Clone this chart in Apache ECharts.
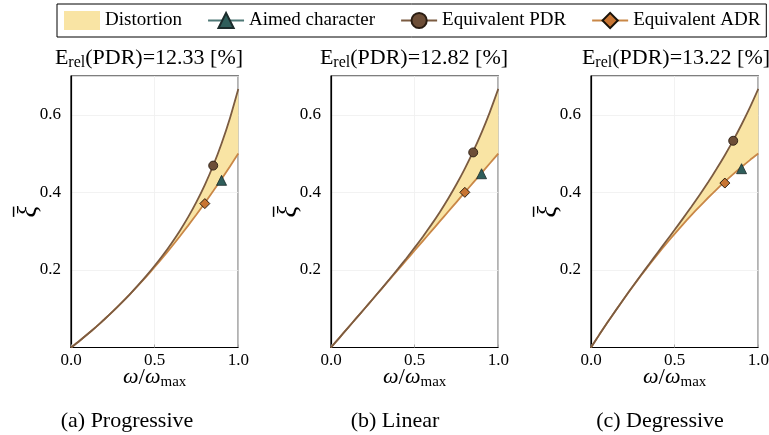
<!DOCTYPE html>
<html>
<head>
<meta charset="utf-8">
<script src="https://cdn.jsdelivr.net/npm/echarts@6/dist/echarts.min.js"></script>
<style>
html,body{margin:0;padding:0;background:#fff;}
#c{width:769px;height:435px;}
</style>
</head>
<body>
<div id="c"></div>
<script>
// ---- data ----
const omega = [0,0.05,0.1,0.15,0.2,0.25,0.3,0.35,0.4,0.45,0.5,0.55,0.6,0.65,0.7,0.75,0.8,0.85,0.9,0.95,1.0];

// (a) Progressive
const pdrProg = [0,0.0169,0.0347,0.0533,0.0728,0.0931,0.1144,0.1365,0.1601,0.1847,0.2107,0.2384,0.2683,0.3006,0.3361,0.3754,0.4195,0.4693,0.5261,0.5913,0.6667];
const adrProg = [0,0.0169,0.0347,0.0533,0.0728,0.0931,0.1143,0.1363,0.1592,0.1829,0.2075,0.2329,0.2592,0.2863,0.3143,0.3431,0.3728,0.4033,0.4347,0.4669,0.5];
// (b) Linear
const pdrLin = [0,0.025,0.05,0.075,0.1,0.1251,0.1507,0.1765,0.2027,0.2296,0.2574,0.2863,0.3168,0.349,0.3835,0.4208,0.4612,0.5054,0.5539,0.6076,0.6667];
const adrLin = [0,0.025,0.05,0.075,0.1,0.125,0.15,0.175,0.2,0.225,0.25,0.275,0.3,0.325,0.35,0.375,0.4,0.425,0.45,0.475,0.5];
// (c) Degressive
const pdrDeg = [0,0.0332,0.0655,0.097,0.1278,0.158,0.1875,0.2166,0.2456,0.2744,0.3034,0.3329,0.3629,0.3939,0.4261,0.46,0.4958,0.5339,0.5749,0.619,0.6667];
const adrDeg = [0,0.0332,0.0655,0.0969,0.1275,0.1573,0.1861,0.2141,0.2413,0.2676,0.293,0.3176,0.3413,0.3641,0.3861,0.4073,0.4275,0.4469,0.4655,0.4832,0.5];

// markers [omega, xi]
const aimedPts = [[0.9,0.431],[0.9,0.448],[0.9,0.461]];
const pdrPts   = [[0.85,0.469],[0.85,0.503],[0.85,0.533]];
const adrPts   = [[0.8,0.371],[0.8,0.40],[0.8,0.424]];

const errRel = ['12.33','12.82','13.22'];
const captions = ['(a) Progressive','(b) Linear','(c) Degressive'];
const xTicks = [0, 0.5, 1.0];
const yTicks = [0.2, 0.4, 0.6];

// ---- styling ----
const FONT = 'Liberation Serif';
const C_FILL = '#f9e4a4';
const C_PDR_LINE = '#7b5b41';
const C_PDR_FILL = '#6d4e37';
const C_ADR_LINE = '#c98747';
const C_ADR_FILL = '#c87533';
const C_AIM_LINE = '#4f7876';
const C_AIM_FILL = '#2f5e5b';

const panels = [
  {pdr: pdrProg, adr: adrProg},
  {pdr: pdrLin, adr: adrLin},
  {pdr: pdrDeg, adr: adrDeg}
];
const lefts = [71, 331, 591];
const PW = 167.3, PT = 76, PH = 271.5;

const grids = [], xAxes = [], yAxes = [], series = [], graphics = [];
panels.forEach((p, i) => {
  grids.push({left: lefts[i], top: PT, width: PW, height: PH, show: true,
    outerBoundsMode: 'none', containLabel: false,
    borderColor: '#000', borderWidth: 1.2, backgroundColor: '#fff'});
  xAxes.push({type: 'value', gridIndex: i, min: 0, max: 1, interval: 0.5,
    axisLine: {show: true, onZero: false, lineStyle: {color: '#000', width: 1.2}},
    axisTick: {show: true, inside: true, length: 3, lineStyle: {color: '#aaa'}},
    splitLine: {show: true, lineStyle: {color: '#efefef', width: 0.8}},
    axisLabel: {fontFamily: FONT, fontSize: 17, color: '#000', margin: 5,
      formatter: v => xTicks.some(t => Math.abs(t - v) < 1e-9) ? v.toFixed(1) : ''},
    name: '{i|ω}{n|/}{i|ω}{s|max}', nameLocation: 'middle', nameGap: 18, nameMoveOverlap: false,
    nameTextStyle: {rich: {
      i: {fontFamily: FONT, fontStyle: 'italic', fontSize: 22, color: '#000', lineHeight: 24, verticalAlign: 'middle'},
      n: {fontFamily: FONT, fontSize: 23, color: '#000', lineHeight: 24, verticalAlign: 'middle'},
      s: {fontFamily: FONT, fontSize: 15, color: '#000', lineHeight: 14, verticalAlign: 'bottom'}
    }}
  });
  yAxes.push({type: 'value', gridIndex: i, min: 0, max: 0.7, interval: 0.2,
    axisLine: {show: true, onZero: false, lineStyle: {color: '#000', width: 1.2}},
    axisTick: {show: false},
    splitLine: {show: true, lineStyle: {color: '#efefef', width: 0.8}},
    axisLabel: {fontFamily: FONT, fontSize: 17, color: '#000', margin: 10,
      formatter: v => yTicks.some(t => Math.abs(t - v) < 1e-9) ? v.toFixed(1) : ''},
    name: '{b|\u2013}\n{x|ξ}', nameLocation: 'middle', nameGap: 31, nameRotate: 90, nameMoveOverlap: false,
    nameTextStyle: {rich: {
      b: {fontFamily: FONT, fontSize: 20, fontWeight: 'bold', color: '#000', lineHeight: 8, align: 'center'},
      x: {fontFamily: FONT, fontStyle: 'italic', fontSize: 27, color: '#000', lineHeight: 22, align: 'center'}
    }}
  });
  // band between the two curves
  const upper = p.pdr, lower = p.adr;
  series.push({type: 'custom', xAxisIndex: i, yAxisIndex: i, name: 'Distortion',
    data: [0], itemStyle: {color: C_FILL}, silent: true, z: 1,
    renderItem: (params, api) => {
      const pts = [];
      omega.forEach((w, k) => pts.push(api.coord([w, upper[k]])));
      for (let k = omega.length - 1; k >= 0; k--) pts.push(api.coord([omega[k], lower[k]]));
      return {type: 'polygon', shape: {points: pts}, style: {fill: C_FILL, stroke: null}};
    }});
  series.push({type: 'line', xAxisIndex: i, yAxisIndex: i, name: 'adrCurve' + i,
    data: omega.map((w, k) => [w, p.adr[k]]), symbol: 'none', smooth: 0.2,
    lineStyle: {color: C_ADR_LINE, width: 1.8}, silent: true, z: 3});
  series.push({type: 'line', xAxisIndex: i, yAxisIndex: i, name: 'pdrCurve' + i,
    data: omega.map((w, k) => [w, p.pdr[k]]), symbol: 'none', smooth: 0.2,
    lineStyle: {color: C_PDR_LINE, width: 1.8}, silent: true, z: 3});
  // markers
  series.push({type: 'line', xAxisIndex: i, yAxisIndex: i, name: 'Aimed character',
    data: [aimedPts[i]], symbol: 'triangle', symbolSize: 10, showSymbol: true,
    color: C_AIM_LINE, lineStyle: {color: C_AIM_LINE, width: 2},
    itemStyle: {color: C_AIM_FILL, borderColor: '#1b2b2b', borderWidth: 0.8}, z: 5});
  series.push({type: 'line', xAxisIndex: i, yAxisIndex: i, name: 'Equivalent PDR',
    data: [pdrPts[i]], symbol: 'circle', symbolSize: 9, showSymbol: true,
    color: C_PDR_LINE, lineStyle: {color: C_PDR_LINE, width: 2},
    itemStyle: {color: C_PDR_FILL, borderColor: '#2a1d12', borderWidth: 0.9}, z: 5});
  series.push({type: 'line', xAxisIndex: i, yAxisIndex: i, name: 'Equivalent ADR',
    data: [adrPts[i]], symbol: 'diamond', symbolSize: 10, showSymbol: true,
    color: C_ADR_LINE, lineStyle: {color: C_ADR_LINE, width: 2},
    itemStyle: {color: C_ADR_FILL, borderColor: '#1a1208', borderWidth: 0.9}, z: 5});

  const cx = [149, 414, 676][i];
  graphics.push({type: 'text', x: cx, y: 58, z: 10,
    style: {text: '{e|E}{s|rel}{e|(PDR)=' + errRel[i] + ' [%]}', align: 'center', verticalAlign: 'middle',
      rich: {
        e: {fontFamily: FONT, fontSize: 22, fill: '#000', lineHeight: 26, verticalAlign: 'middle'},
        s: {fontFamily: FONT, fontSize: 16, fill: '#000', lineHeight: 14, verticalAlign: 'bottom'}
      }}});
  graphics.push({type: 'text', x: [127, 395, 660][i], y: 421, z: 10,
    style: {text: captions[i], fontFamily: FONT, fontSize: 22, fill: '#000', align: 'center', verticalAlign: 'middle'}});
});

const chart = echarts.init(document.getElementById('c'), null, {renderer: 'canvas'});
chart.setOption({
  animation: false,
  backgroundColor: '#fff',
  textStyle: {fontFamily: FONT},
  grid: grids, xAxis: xAxes, yAxis: yAxes, series: series,
  legend: {
    left: 57, top: 4, width: 740, selectedMode: false,
    padding: [7, 6, 7, 7], itemGap: 25, itemWidth: 36, itemHeight: 19,
    borderColor: '#000', borderWidth: 1, borderRadius: 0, backgroundColor: '#fff',
    textStyle: {fontFamily: FONT, fontSize: 19, color: '#000'},
    data: [
      {name: 'Distortion', icon: 'rect', itemStyle: {color: C_FILL}},
      'Aimed character', 'Equivalent PDR', 'Equivalent ADR'
    ]
  },
  graphic: graphics
});
</script>
</body>
</html>
